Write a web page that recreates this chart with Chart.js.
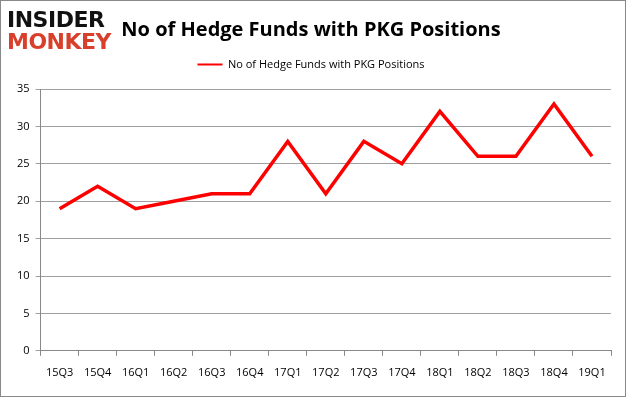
<!DOCTYPE html>
<html>
<head>
<meta charset="utf-8">
<script src="https://cdn.jsdelivr.net/npm/chart.js@4"></script>
<style>
  body { margin: 0; background: #fff; }
  #wrap { position: relative; width: 624px; height: 395px; border: 1px solid #888; }
  #logo { position: absolute; left: 6px; top: 8px; font-family: "DejaVu Sans", sans-serif; font-weight: bold; line-height: 22px; font-size: 22px; letter-spacing: -0.5px; }
  #logo .a { color: #111; }
  #logo .b { color: #d9402b; }
</style>
</head>
<body>
<div id="wrap">
  <canvas id="grafico" width="624" height="395"></canvas>
  <div id="logo"><div class="a">INSIDER</div><div class="b">MONKEY</div></div>
</div>
<script>
// Trimestres e número de hedge funds
const trimestres = ['15Q3', '15Q4', '16Q1', '16Q2', '16Q3', '16Q4', '17Q1', '17Q2', '17Q3', '17Q4', '18Q1', '18Q2', '18Q3', '18Q4', '19Q1'];
const fundos = [19, 22, 19, 20, 21, 21, 28, 21, 28, 25, 32, 26, 26, 33, 26];
const ticksY = [0, 5, 10, 15, 20, 25, 30, 35];
const rotulo = 'No of Hedge Funds with PKG Positions';

// Aumenta o espaço abaixo da legenda
const espacoLegenda = {
    id: 'espacoLegenda',
    beforeInit(chart) {
        const fitOriginal = chart.legend.fit;
        chart.legend.fit = function () {
            fitOriginal.bind(chart.legend)();
            this.height += 9;
        };
    }
};

document.addEventListener('DOMContentLoaded', () => {
    const ctx = document.getElementById('grafico');
    new Chart(ctx, {
        type: 'line',
        data: {
            labels: trimestres,
            datasets: [{
                label: rotulo,
                data: fundos,
                borderColor: '#ff0000',
                backgroundColor: '#ff0000',
                borderWidth: 3.5,
                pointRadius: 0,
                tension: 0
            }]
        },
        plugins: [espacoLegenda],
        options: {
            responsive: false,
            animation: false,
            layout: { padding: { left: 10, right: 14, top: 0, bottom: 7 } },
            plugins: {
                title: {
                    display: true,
                    text: rotulo,
                    color: '#000',
                    font: { family: 'Open Sans', size: 20, weight: 'bold' },
                    padding: { top: 17, bottom: 3 }
                },
                legend: {
                    position: 'top',
                    labels: {
                        boxWidth: 25,
                        boxHeight: 2,
                        color: '#000',
                        font: { family: 'Open Sans', size: 11 },
                        padding: 14,
                        generateLabels: (chart) =>
                            Chart.defaults.plugins.legend.labels.generateLabels(chart)
                                .map(item => ({ ...item, lineWidth: 0 }))
                    }
                },
                tooltip: { enabled: false }
            },
            scales: {
                x: {
                    offset: true,
                    grid: { offset: true, drawOnChartArea: false, color: '#888', tickLength: 5 },
                    border: { color: '#888' },
                    ticks: { color: '#000', font: { family: 'Open Sans', size: 11 }, padding: 10, maxRotation: 0 }
                },
                y: {
                    min: 0,
                    max: 35,
                    afterBuildTicks: (eixo) => { eixo.ticks = ticksY.map(v => ({ value: v })); },
                    grid: { color: '#a0a0a0', tickLength: 5 },
                    border: { color: '#888' },
                    ticks: { color: '#000', font: { family: 'Open Sans', size: 11 }, padding: 6 }
                }
            }
        }
    });
});
</script>
</body>
</html>
